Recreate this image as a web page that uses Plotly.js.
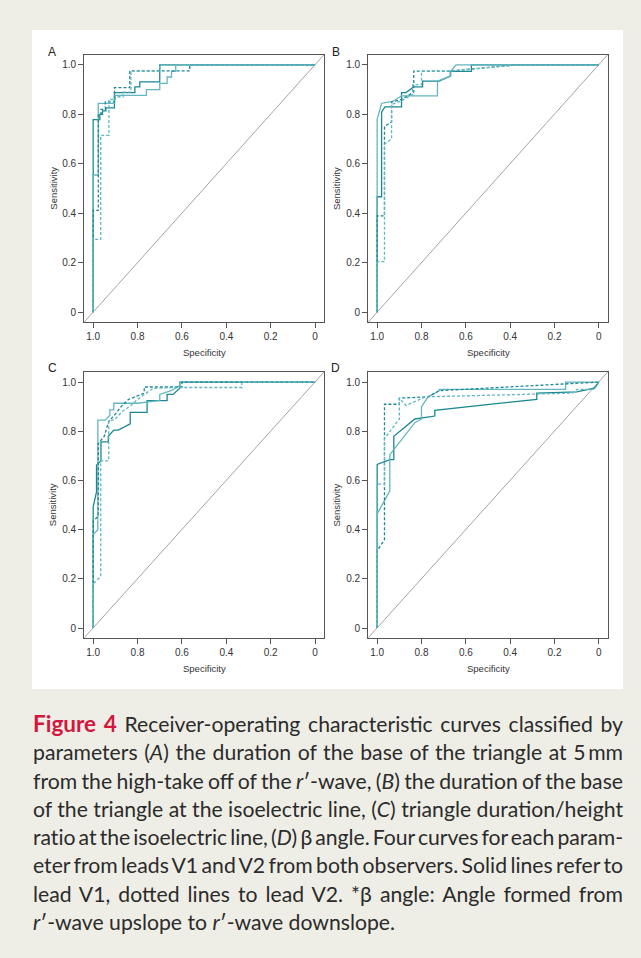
<!DOCTYPE html>
<html>
<head>
<meta charset="utf-8">
<script src="https://cdn.plot.ly/plotly-3.0.1.min.js"></script>
<style>
  html, body { margin:0; padding:0; background:#EFEEE6; width:641px; height:958px; overflow:hidden; }
  #panel { position:absolute; left:32px; top:30px; width:591px; height:659px; background:#FFFFFF; }
  #chart { position:absolute; left:0; top:0; width:641px; height:958px; }
  #caption { position:absolute; left:33px; top:710px; width:590px; font-family:Lato, "Open Sans", sans-serif; font-size:21.2px; color:#2b2b2b; line-height:28.3px; }
  #caption div { text-align:justify; text-align-last:justify; white-space:nowrap; overflow:visible; height:28.3px; }
  #caption div.last { text-align-last:left; }
  #caption b { color:#D4173F; font-weight:700; font-size:22.5px; }
</style>
</head>
<body>
<div id="panel"></div>
<div id="chart"></div>
<div id="caption">
  <div><b>Figure 4</b> Receiver-operating characteristic curves classified by</div>
  <div>parameters (<i>A</i>) the duration of the base of the triangle at 5&#8201;mm</div>
  <div>from the high-take off of the <i>r</i>′-wave, (<i>B</i>) the duration of the base</div>
  <div>of the triangle at the isoelectric line, (<i>C</i>) triangle duration/height</div>
  <div>ratio at the isoelectric line, (<i>D</i>) β angle. Four curves for each param-</div>
  <div>eter from leads V1 and V2 from both observers. Solid lines refer to</div>
  <div>lead V1, dotted lines to lead V2. *β angle: Angle formed from</div>
  <div class="last"><i>r</i>′-wave upslope to <i>r</i>′-wave downslope.</div>
</div>
<script>
// ---------- data: (specificity, sensitivity) pairs ----------
// Panel A
const A_v1a_spec = [1,1,0.97,0.97,0.958,0.958,0.943,0.943,0.904,0.904,0.812,0.812,0.79,0.79,0.70,0.70,0];
const A_v1a_sens = [0,0.779,0.779,0.80,0.80,0.814,0.814,0.826,0.826,0.888,0.888,0.911,0.911,0.931,0.931,1,1];
const A_v1b_spec = [1,1,0.977,0.977,0.904,0.904,0.76,0.76,0.70,0.70,0.667,0.667,0.647,0.647,0.628,0.628,0];
const A_v1b_sens = [0,0.555,0.555,0.844,0.844,0.877,0.877,0.90,0.90,0.925,0.925,0.951,0.951,0.974,0.974,1,1];
const A_v2a_spec = [1,1,0.977,0.977,0.965,0.965,0.945,0.945,0.904,0.904,0.835,0.835,0.565,0.565,0];
const A_v2a_sens = [0,0.412,0.412,0.80,0.80,0.82,0.82,0.85,0.85,0.908,0.908,0.976,0.976,1,1];
const A_v2b_spec = [1,1,0.966,0.966,0.929,0.929,0.90,0.90,0.865,0.865,0.83,0.83,0.70,0.70,0];
const A_v2b_sens = [0,0.295,0.295,0.715,0.715,0.86,0.86,0.871,0.871,0.89,0.89,0.975,0.975,1,1];
// Panel B
const B_v1a_spec = [1,1,0.98,0.98,0.965,0.935,0.89,0.89,0.87,0.835,0.795,0.795,0.72,0.67,0.67,0.575,0.575,0];
const B_v1a_sens = [0,0.467,0.467,0.81,0.83,0.83,0.83,0.888,0.888,0.911,0.911,0.934,0.934,0.955,0.974,0.974,1,1];
const B_v1b_spec = [1,1,0.98,0.93,0.89,0.728,0.728,0.668,0.668,0.644,0];
const B_v1b_sens = [0,0.78,0.845,0.852,0.875,0.875,0.934,0.955,0.974,1,1];
const B_v2a_spec = [1,1,0.967,0.967,0.935,0.935,0.89,0.835,0.835,0.67,0.37,0];
const B_v2a_sens = [0,0.39,0.39,0.75,0.77,0.85,0.86,0.89,0.975,0.975,1,1];
const B_v2b_spec = [1,1,0.967,0.967,0.935,0.935,0.89,0.84,0.84,0.80,0.80,0.67,0.37,0];
const B_v2b_sens = [0,0.205,0.205,0.68,0.70,0.84,0.855,0.88,0.92,0.92,0.975,0.975,1,1];
// Panel C
const C_v1a_spec = [1,1,0.985,0.985,0.965,0.965,0.932,0.932,0.907,0.887,0.833,0.833,0.757,0.757,0.667,0.667,0.64,0.61,0.61,0];
const C_v1a_sens = [0,0.493,0.554,0.662,0.68,0.757,0.757,0.78,0.805,0.805,0.83,0.877,0.877,0.925,0.925,0.95,0.95,0.975,1,1];
const C_v1b_spec = [1,1,0.979,0.979,0.946,0.925,0.925,0.907,0.907,0.80,0.70,0.70,0.65,0.61,0.61,0];
const C_v1b_sens = [0,0.38,0.40,0.845,0.845,0.864,0.887,0.887,0.914,0.914,0.925,0.95,0.965,0.985,1,1];
const C_v2a_spec = [1,1,0.977,0.977,0.95,0.93,0.90,0.87,0.84,0.77,0.77,0.60,0.60,0];
const C_v2a_sens = [0,0.435,0.455,0.75,0.78,0.84,0.87,0.905,0.93,0.955,0.98,0.98,1,1];
const C_v2b_spec = [1,1,0.966,0.966,0.93,0.93,0.90,0.87,0.83,0.80,0.73,0.61,0.33,0.33,0];
const C_v2b_sens = [0,0.18,0.21,0.68,0.68,0.84,0.85,0.88,0.905,0.93,0.975,0.978,0.978,1,1];
// Panel D
const D_v1a_spec = [1,1,0.943,0.925,0.925,0.83,0.74,0.74,0.28,0.28,0.10,0.02,0];
const D_v1a_sens = [0,0.665,0.685,0.685,0.78,0.85,0.862,0.885,0.93,0.955,0.96,0.975,1];
const D_v1b_spec = [1,1,0.943,0.943,0.83,0.80,0.80,0.77,0.72,0.72,0.15,0.15,0];
const D_v1b_sens = [0,0.464,0.558,0.705,0.835,0.85,0.90,0.94,0.965,0.97,0.97,1,1];
const D_v2a_spec = [1,1,0.967,0.967,0.90,0.90,0.77,0.72,0];
const D_v2a_sens = [0,0.315,0.36,0.91,0.91,0.935,0.94,0.965,1];
const D_v2b_spec = [1,1,0.967,0.967,0.90,0.90,0.87,0.78,0.12,0.10,0.02,0];
const D_v2b_sens = [0,0.585,0.585,0.77,0.85,0.935,0.905,0.94,0.955,0.97,0.97,1];

const panelLabels = ['A','B','C','D'];
const tickVals = [0,0.2,0.4,0.6,0.8,1.0];
const tickText = ['0','0.2','0.4','0.6','0.8','1.0'];

// ---------- styling ----------
const darkTeal = '#1B8893';
const lightTeal = '#62B6BF';
const W = 641, H = 958;
const xDom = [[84.3/W, 324/W],[368.3/W, 607.7/W],[84.3/W, 324/W],[368.3/W, 607.7/W]];
const yDom = [[1-322/H, 1-54.7/H],[1-322/H, 1-54.7/H],[1-637.7/H, 1-372/H],[1-637.7/H, 1-372/H]];
const labelY = [51.5, 51.5, 368, 368];

const panels = [
  [[A_v1a_spec,A_v1a_sens],[A_v1b_spec,A_v1b_sens],[A_v2a_spec,A_v2a_sens],[A_v2b_spec,A_v2b_sens]],
  [[B_v1a_spec,B_v1a_sens],[B_v1b_spec,B_v1b_sens],[B_v2a_spec,B_v2a_sens],[B_v2b_spec,B_v2b_sens]],
  [[C_v1a_spec,C_v1a_sens],[C_v1b_spec,C_v1b_sens],[C_v2a_spec,C_v2a_sens],[C_v2b_spec,C_v2b_sens]],
  [[D_v1a_spec,D_v1a_sens],[D_v1b_spec,D_v1b_sens],[D_v2a_spec,D_v2a_sens],[D_v2b_spec,D_v2b_sens]]
];
const curveStyles = [
  {color:darkTeal, dash:'solid'},
  {color:lightTeal, dash:'solid'},
  {color:darkTeal, dash:'3px,2px'},
  {color:lightTeal, dash:'3px,2px'}
];

const traces = [];
const layout = {
  width: W, height: H,
  margin: {l:0, r:0, t:0, b:0},
  paper_bgcolor: 'rgba(0,0,0,0)',
  plot_bgcolor: '#FFFFFF',
  showlegend: false,
  font: {family:'"Liberation Sans", Arial, sans-serif', color:'#333333', size:10},
  shapes: [],
  annotations: []
};

panels.forEach((curves, p) => {
  const sfx = p === 0 ? '' : String(p+1);
  curves.forEach((c, i) => {
    traces.push({
      type:'scatter', mode:'lines',
      x: c[0], y: c[1],
      xaxis: 'x'+sfx, yaxis: 'y'+sfx,
      line: {color: curveStyles[i].color, width: 1.3, dash: curveStyles[i].dash, shape:'linear'},
      hoverinfo: 'skip'
    });
  });
  const axCommon = {
    showgrid:false, zeroline:false, showline:true, mirror:true,
    linecolor:'#555555', linewidth:1.2,
    ticks:'outside', ticklen:5, tickwidth:1, tickcolor:'#555555',
    tickvals: tickVals, ticktext: tickText,
    tickfont: {size:10, color:'#333333'}, fixedrange:true
  };
  layout['xaxis'+sfx] = Object.assign({}, axCommon, {
    domain: xDom[p], range:[1.04,-0.04], anchor: 'y'+sfx
  });
  layout['yaxis'+sfx] = Object.assign({}, axCommon, {
    domain: yDom[p], range:[-0.039,1.041], anchor: 'x'+sfx
  });
  layout.shapes.push({
    type:'line', xref:'x'+sfx+' domain', yref:'y'+sfx+' domain',
    x0:0, y0:0, x1:1, y1:1, layer:'below',
    line:{color:'#9A9A9A', width:0.9}
  });
  const xc = (xDom[p][0]+xDom[p][1])/2;
  const yc = (yDom[p][0]+yDom[p][1])/2;
  layout.annotations.push({
    xref:'paper', yref:'paper', x:xc, y:yDom[p][0] - 30.7/H,
    text:'Specificity', showarrow:false, xanchor:'center', yanchor:'middle',
    font:{size:9.5, color:'#333333'}
  });
  layout.annotations.push({
    xref:'paper', yref:'paper', x:(p%2===0 ? 53.3 : 336.7)/W, y:yc,
    text:'Sensitivity', showarrow:false, textangle:-90, xanchor:'center', yanchor:'middle',
    font:{size:9.5, color:'#333333'}
  });
  layout.annotations.push({
    xref:'paper', yref:'paper', x:(p%2===0 ? 52 : 335.7)/W, y:1-labelY[p]/H,
    text:panelLabels[p], showarrow:false, xanchor:'center', yanchor:'middle',
    font:{size:12, color:'#222222'}
  });
});

Plotly.newPlot('chart', traces, layout, {displayModeBar:false, staticPlot:true});

// keep every caption line inside the column: measure its natural (unjustified) width
// and tighten word / letter spacing only when it would overflow
document.querySelectorAll('#caption div').forEach(d => {
  const range = document.createRange();
  range.selectNodeContents(d);
  const saved = d.style.textAlignLast;
  d.style.textAlignLast = 'left';
  d.style.textAlign = 'left';
  let ws = 0, ls = 0;
  while (range.getBoundingClientRect().width > 589 && ws > -2.5) {
    ws -= 0.25; d.style.wordSpacing = ws + 'px';
  }
  while (range.getBoundingClientRect().width > 589 && ls > -1) {
    ls -= 0.05; d.style.letterSpacing = ls + 'px';
  }
  d.style.textAlign = '';
  d.style.textAlignLast = saved;
});
</script>
</body>
</html>
